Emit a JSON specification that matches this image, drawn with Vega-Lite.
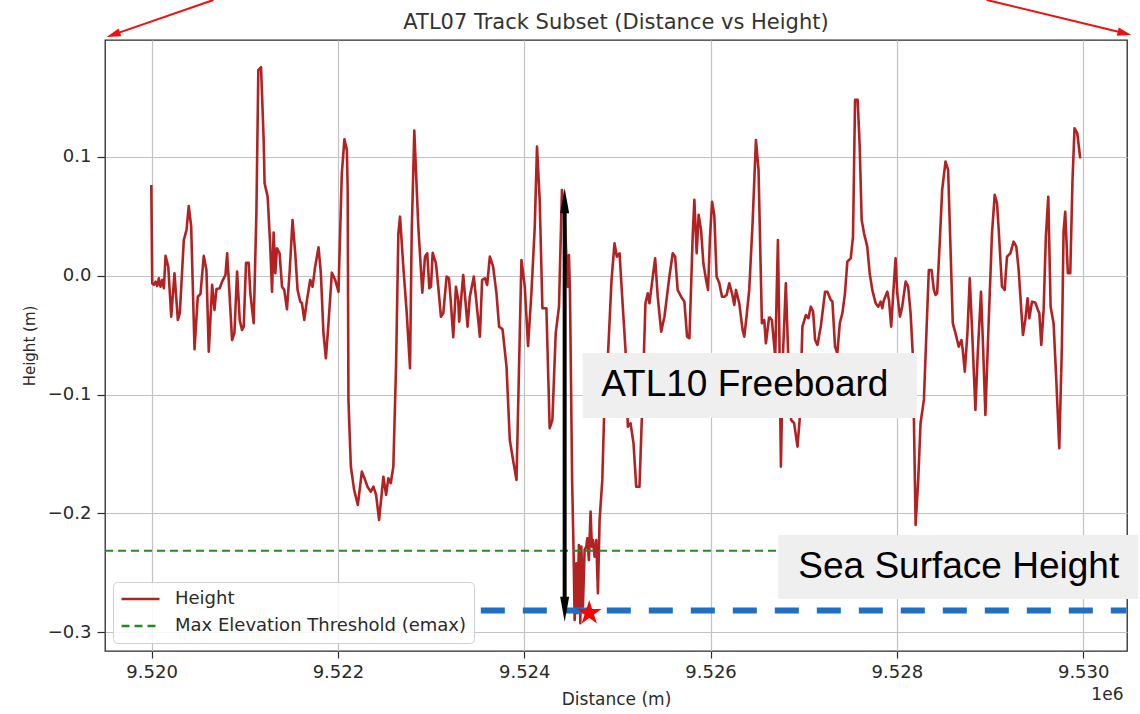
{
  "$schema": "https://vega.github.io/schema/vega-lite/v6.json",
  "width": 1022,
  "height": 611,
  "autosize": {"type": "none"},
  "padding": {"left": 105, "top": 40, "right": 13, "bottom": 63},
  "background": "white",
  "title": {
    "text": "ATL07 Track Subset (Distance vs Height)",
    "font": "DejaVu Sans",
    "fontSize": 21,
    "fontWeight": "normal",
    "color": "#333333",
    "baseline": "alphabetic",
    "offset": 12,
    "dy": 63,
    "anchor": "middle",
    "frame": "group"
  },
  "config": {
    "view": {"stroke": "#2a2a2a", "strokeWidth": 1.3},
    "axis": {
      "domain": false,
      "grid": true,
      "gridColor": "#c2c2c2",
      "gridWidth": 1.2,
      "tickColor": "#2a2a2a",
      "tickWidth": 1.2,
      "labelFont": "DejaVu Sans",
      "labelFontSize": 18,
      "labelColor": "#2a2a2a",
      "titleFont": "DejaVu Sans",
      "titleFontWeight": "normal",
      "titleColor": "#2a2a2a"
    },
    "legend": {
      "orient": "bottom-left",
      "offset": 8,
      "fillColor": "rgba(255,255,255,0.85)",
      "strokeColor": "#d0d0d0",
      "cornerRadius": 4,
      "padding": 7,
      "labelFont": "DejaVu Sans",
      "labelFontSize": 18,
      "labelColor": "#2a2a2a",
      "labelLimit": 400,
      "symbolType": "stroke",
      "symbolSize": 1444,
      "symbolStrokeWidth": 2.5,
      "labelOffset": 14,
      "clipHeight": 20,
      "rowPadding": 7
    }
  },
  "datasets": {
    "track": [
      {"d":9519997,"h":0.0763},{"d":9520007,"h":-0.0064},{"d":9520025,"h":-0.0078},{"d":9520043,"h":-0.005},{"d":9520061,"h":-0.0087},{"d":9520078,"h":-0.0022},{"d":9520096,"h":-0.0093},{"d":9520115,"h":-0.0036},{"d":9520132,"h":-0.0106},{"d":9520150,"h":0.0166},
      {"d":9520179,"h":0.0076},{"d":9520211,"h":-0.0345},{"d":9520246,"h":0.002},{"d":9520282,"h":-0.0373},{"d":9520303,"h":-0.0316},{"d":9520346,"h":0.03},{"d":9520375,"h":0.0384},{"d":9520399,"h":0.0586},{"d":9520425,"h":0.0412},{"d":9520461,"h":-0.0619},
      {"d":9520496,"h":-0.0177},{"d":9520525,"h":-0.0154},{"d":9520560,"h":0.0166},{"d":9520589,"h":0.0048},{"d":9520614,"h":-0.0639},{"d":9520650,"h":-0.0078},{"d":9520675,"h":-0.0288},{"d":9520696,"h":-0.0114},{"d":9520731,"h":-0.0106},{"d":9520757,"h":-0.005},
      {"d":9520793,"h":0.0006},{"d":9520811,"h":0.0188},{"d":9520828,"h":-0.0036},{"d":9520864,"h":-0.0541},{"d":9520889,"h":-0.0484},{"d":9520918,"h":0.0034},{"d":9520946,"h":-0.0373},{"d":9520971,"h":-0.0457},{"d":9520989,"h":-0.0429},{"d":9521014,"h":0.0109},
      {"d":9521042,"h":0.0109},{"d":9521060,"h":-0.0148},{"d":9521096,"h":-0.04},{"d":9521125,"h":0.0525},{"d":9521146,"h":0.173},{"d":9521175,"h":0.1753},{"d":9521203,"h":0.1141},{"d":9521213,"h":0.0777},{"d":9521246,"h":0.0664},{"d":9521274,"h":0.0244},
      {"d":9521293,"h":-0.0135},{"d":9521310,"h":0.0362},{"d":9521328,"h":0.002},{"d":9521346,"h":0.023},{"d":9521374,"h":0.0188},{"d":9521400,"h":-0.0093},{"d":9521424,"h":-0.012},{"d":9521453,"h":-0.0283},{"d":9521481,"h":0.002},{"d":9521513,"h":0.0468},
      {"d":9521542,"h":0.0188},{"d":9521567,"h":-0.012},{"d":9521596,"h":-0.0219},{"d":9521614,"h":-0.0232},{"d":9521639,"h":-0.0373},{"d":9521668,"h":-0.0204},{"d":9521703,"h":-0.0036},{"d":9521728,"h":-0.0093},{"d":9521756,"h":0.0076},{"d":9521792,"h":0.0239},
      {"d":9521817,"h":0.002},{"d":9521845,"h":-0.0484},{"d":9521871,"h":-0.0695},{"d":9521899,"h":-0.04},{"d":9521935,"h":0.0025},{"d":9521971,"h":-0.0036},{"d":9522006,"h":-0.0135},{"d":9522042,"h":0.0861},{"d":9522070,"h":0.1147},{"d":9522096,"h":0.1057},
      {"d":9522105,"h":0.0721},{"d":9522113,"h":-0.1045},{"d":9522139,"h":-0.1606},{"d":9522174,"h":-0.1802},{"d":9522214,"h":-0.1929},{"d":9522257,"h":-0.1648},{"d":9522292,"h":-0.1718},{"d":9522317,"h":-0.1775},{"d":9522353,"h":-0.1817},{"d":9522381,"h":-0.1775},
      {"d":9522410,"h":-0.1844},{"d":9522442,"h":-0.2055},{"d":9522488,"h":-0.1691},{"d":9522517,"h":-0.1844},{"d":9522541,"h":-0.1704},{"d":9522567,"h":-0.1746},{"d":9522595,"h":-0.1606},{"d":9522624,"h":-0.0765},{"d":9522649,"h":0.0357},{"d":9522667,"h":0.0496},
      {"d":9522702,"h":0.0076},{"d":9522739,"h":-0.0316},{"d":9522774,"h":-0.0779},{"d":9522792,"h":0.0357},{"d":9522820,"h":0.122},{"d":9522863,"h":0.0412},{"d":9522906,"h":-0.0143},{"d":9522935,"h":0.016},{"d":9522959,"h":0.0188},{"d":9522981,"h":-0.0106},
      {"d":9522999,"h":-0.0093},{"d":9523017,"h":0.0193},{"d":9523052,"h":0.0104},{"d":9523077,"h":-0.0093},{"d":9523106,"h":-0.0345},{"d":9523131,"h":-0.0316},{"d":9523167,"h":-0.0008},{"d":9523192,"h":-0.0022},{"d":9523213,"h":-0.0232},{"d":9523238,"h":-0.0518},
      {"d":9523267,"h":-0.0093},{"d":9523291,"h":-0.0204},{"d":9523302,"h":-0.0387},{"d":9523345,"h":0.0006},{"d":9523374,"h":-0.0261},{"d":9523392,"h":-0.0429},{"d":9523416,"h":-0.0177},{"d":9523459,"h":-0.0008},{"d":9523488,"h":-0.0232},{"d":9523524,"h":-0.0513},
      {"d":9523548,"h":-0.0036},{"d":9523580,"h":-0.0022},{"d":9523602,"h":-0.0078},{"d":9523631,"h":0.016},{"d":9523666,"h":0.0076},{"d":9523702,"h":-0.0148},{"d":9523730,"h":-0.0429},{"d":9523767,"h":-0.0451},{"d":9523810,"h":-0.0765},{"d":9523845,"h":-0.1382},
      {"d":9523880,"h":-0.155},{"d":9523917,"h":-0.1718},{"d":9523970,"h":0.0132},{"d":9524006,"h":-0.0093},{"d":9524041,"h":-0.0591},{"d":9524077,"h":-0.0148},{"d":9524113,"h":0.0412},{"d":9524137,"h":0.1085},{"d":9524166,"h":0.0637},{"d":9524195,"h":-0.0274},
      {"d":9524238,"h":-0.0274},{"d":9524273,"h":-0.1283},{"d":9524302,"h":-0.1214},{"d":9524338,"h":-0.0484},{"d":9524373,"h":-0.0261},{"d":9524405,"h":0.0721},{"d":9524434,"h":0.0496},{"d":9524466,"h":-0.0093},{"d":9524480,"h":0.0174},{"d":9524491,"h":-0.0135},
      {"d":9524514,"h":-0.1718},{"d":9524530,"h":-0.2335},{"d":9524541,"h":-0.2896},{"d":9524559,"h":-0.2419},{"d":9524570,"h":-0.2839},{"d":9524587,"h":-0.2265},{"d":9524602,"h":-0.2923},{"d":9524613,"h":-0.2279},{"d":9524630,"h":-0.2784},{"d":9524648,"h":-0.2307},
      {"d":9524666,"h":-0.2279},{"d":9524677,"h":-0.2209},{"d":9524694,"h":-0.2391},{"d":9524712,"h":-0.1985},{"d":9524726,"h":-0.2279},{"d":9524737,"h":-0.2223},{"d":9524755,"h":-0.2363},{"d":9524773,"h":-0.2223},{"d":9524791,"h":-0.2671},{"d":9524809,"h":-0.2055},
      {"d":9524838,"h":-0.1718},{"d":9524862,"h":-0.1045},{"d":9524898,"h":-0.0681},{"d":9524937,"h":-0.0036},{"d":9524969,"h":0.0272},{"d":9524994,"h":0.016},{"d":9525023,"h":0.0188},{"d":9525058,"h":-0.0261},{"d":9525087,"h":-0.0625},{"d":9525112,"h":-0.127},
      {"d":9525141,"h":-0.1241},{"d":9525173,"h":-0.141},{"d":9525202,"h":-0.1775},{"d":9525237,"h":-0.1775},{"d":9525273,"h":-0.0961},{"d":9525301,"h":-0.0232},{"d":9525326,"h":-0.0148},{"d":9525344,"h":-0.0232},{"d":9525380,"h":-0.0008},{"d":9525405,"h":0.0146},
      {"d":9525433,"h":-0.0177},{"d":9525470,"h":-0.0471},{"d":9525505,"h":-0.0345},{"d":9525558,"h":-0.0008},{"d":9525594,"h":0.0188},{"d":9525620,"h":0.016},{"d":9525647,"h":-0.012},{"d":9525684,"h":-0.0177},{"d":9525719,"h":-0.0219},{"d":9525748,"h":-0.0513},
      {"d":9525773,"h":-0.0526},{"d":9525791,"h":-0.0093},{"d":9525808,"h":0.0328},{"d":9525826,"h":0.0637},{"d":9525851,"h":0.0188},{"d":9525872,"h":0.0511},{"d":9525898,"h":0.0384},{"d":9525923,"h":0.0104},{"d":9525952,"h":-0.0036},{"d":9525973,"h":-0.012},
      {"d":9525994,"h":0.0328},{"d":9526016,"h":0.0622},{"d":9526040,"h":0.0511},{"d":9526065,"h":-0.0008},{"d":9526094,"h":-0.0064},{"d":9526123,"h":-0.0177},{"d":9526148,"h":-0.0177},{"d":9526172,"h":-0.0162},{"d":9526201,"h":-0.0064},{"d":9526230,"h":-0.0148},
      {"d":9526255,"h":-0.0246},{"d":9526273,"h":-0.012},{"d":9526308,"h":-0.0232},{"d":9526344,"h":-0.0457},{"d":9526362,"h":-0.0513},{"d":9526386,"h":-0.0345},{"d":9526415,"h":-0.012},{"d":9526451,"h":0.0441},{"d":9526487,"h":0.1141},{"d":9526515,"h":0.0889},
      {"d":9526551,"h":-0.04},{"d":9526576,"h":-0.0373},{"d":9526594,"h":-0.0569},{"d":9526629,"h":-0.0345},{"d":9526658,"h":-0.0373},{"d":9526694,"h":-0.0681},{"d":9526723,"h":0.03},{"d":9526737,"h":-0.04},{"d":9526755,"h":-0.1606},{"d":9526779,"h":-0.0625},
      {"d":9526808,"h":-0.0064},{"d":9526836,"h":-0.0737},{"d":9526865,"h":-0.1214},{"d":9526897,"h":-0.1241},{"d":9526933,"h":-0.1438},{"d":9526956,"h":-0.1214},{"d":9526986,"h":-0.0429},{"d":9527023,"h":-0.0331},{"d":9527050,"h":-0.0358},{"d":9527076,"h":-0.0261},
      {"d":9527101,"h":-0.0303},{"d":9527122,"h":-0.0541},{"d":9527147,"h":-0.0583},{"d":9527183,"h":-0.0429},{"d":9527229,"h":-0.0135},{"d":9527254,"h":-0.0135},{"d":9527290,"h":-0.0204},{"d":9527308,"h":-0.0219},{"d":9527336,"h":-0.0597},{"d":9527361,"h":-0.0653},
      {"d":9527387,"h":-0.04},{"d":9527415,"h":-0.0316},{"d":9527443,"h":-0.0148},{"d":9527468,"h":0.0118},{"d":9527505,"h":0.0146},{"d":9527529,"h":0.0328},{"d":9527551,"h":0.1478},{"d":9527579,"h":0.1478},{"d":9527601,"h":0.1085},{"d":9527622,"h":0.0468},
      {"d":9527647,"h":0.0357},{"d":9527682,"h":0.0244},{"d":9527708,"h":0.002},{"d":9527736,"h":-0.012},{"d":9527772,"h":-0.0232},{"d":9527800,"h":-0.0261},{"d":9527826,"h":-0.0219},{"d":9527843,"h":-0.0274},{"d":9527861,"h":-0.0204},{"d":9527897,"h":-0.0135},
      {"d":9527915,"h":-0.0204},{"d":9527939,"h":-0.0429},{"d":9527961,"h":-0.0148},{"d":9527986,"h":0.0146},{"d":9528004,"h":-0.0148},{"d":9528033,"h":-0.0345},{"d":9528057,"h":-0.0261},{"d":9528094,"h":-0.005},{"d":9528121,"h":-0.0093},{"d":9528147,"h":-0.0316},
      {"d":9528172,"h":-0.0681},{"d":9528201,"h":-0.2097},{"d":9528229,"h":-0.1718},{"d":9528254,"h":-0.1241},{"d":9528290,"h":-0.1045},{"d":9528325,"h":-0.0316},{"d":9528343,"h":0.0048},{"d":9528372,"h":0.0048},{"d":9528397,"h":-0.012},{"d":9528415,"h":-0.0162},
      {"d":9528432,"h":-0.0148},{"d":9528458,"h":0.0244},{"d":9528486,"h":0.0721},{"d":9528522,"h":0.0959},{"d":9528550,"h":0.0889},{"d":9528575,"h":0.0244},{"d":9528600,"h":-0.04},{"d":9528629,"h":-0.0484},{"d":9528664,"h":-0.0597},{"d":9528693,"h":-0.0541},
      {"d":9528707,"h":-0.0625},{"d":9528729,"h":-0.0807},{"d":9528757,"h":-0.0484},{"d":9528782,"h":-0.0022},{"d":9528807,"h":-0.0457},{"d":9528843,"h":-0.113},{"d":9528868,"h":-0.0653},{"d":9528903,"h":-0.0135},{"d":9528925,"h":-0.0597},{"d":9528950,"h":-0.1172},
      {"d":9528986,"h":-0.0373},{"d":9529021,"h":0.0357},{"d":9529050,"h":0.0679},{"d":9529075,"h":0.0609},{"d":9529093,"h":0.0384},{"d":9529128,"h":-0.0093},{"d":9529157,"h":-0.012},{"d":9529182,"h":0.016},{"d":9529218,"h":0.0188},{"d":9529253,"h":0.0286},
      {"d":9529282,"h":0.0244},{"d":9529307,"h":0.0048},{"d":9529353,"h":-0.0499},{"d":9529378,"h":-0.0373},{"d":9529403,"h":-0.019},{"d":9529422,"h":-0.0358},{"d":9529450,"h":-0.0219},{"d":9529486,"h":-0.0227},{"d":9529514,"h":-0.0288},{"d":9529529,"h":-0.0316},
      {"d":9529550,"h":-0.0583},{"d":9529575,"h":-0.0288},{"d":9529599,"h":0.0328},{"d":9529625,"h":0.0664},{"d":9529650,"h":-0.0261},{"d":9529682,"h":-0.04},{"d":9529711,"h":-0.0877},{"d":9529743,"h":-0.1452},{"d":9529771,"h":-0.0597},{"d":9529789,"h":0.037},
      {"d":9529807,"h":0.0538},{"d":9529835,"h":0.002},{"d":9529861,"h":0.002},{"d":9529885,"h":0.0805},{"d":9529907,"h":0.124},{"d":9529936,"h":0.1198},{"d":9529968,"h":0.0987}
    ],
    "threshold": [{"h": -0.2313}],
    "seaSurface": [{"d1": 9523534, "d2": 9530464, "h": -0.2817}],
    "lowest": [{"d": 9524698, "h": -0.2837}]
  },
  "layer": [
    {
      "data": {"name": "track"},
      "mark": {"type": "line", "strokeWidth": 2.6, "clip": true, "strokeJoin": "round"},
      "encoding": {
        "x": {
          "field": "d", "type": "quantitative",
          "scale": {"domain": [9519500, 9530470], "nice": false, "zero": false},
          "axis": {
            "values": [9520000, 9522000, 9524000, 9526000, 9528000, 9530000],
            "labelExpr": "format(datum.value / 1000000, '.3f')",
            "tickSize": 7,
            "labelPadding": 5,
            "title": "Distance (m)",
            "titleFontSize": 17,
            "titlePadding": 10
          }
        },
        "y": {
          "field": "h", "type": "quantitative",
          "scale": {"domain": [-0.3157, 0.1982], "nice": false, "zero": false},
          "axis": {
            "values": [-0.3, -0.2, -0.1, 0, 0.1],
            "format": ".1f",
            "tickSize": 8,
            "labelPadding": 6,
            "title": "Height (m)",
            "titleFontSize": 15,
            "titlePadding": 10
          }
        },
        "color": {
          "datum": "Height",
          "scale": {"domain": ["Height", "Max Elevation Threshold (emax)"], "range": ["#b22222", "#228b22"]},
          "legend": {"title": null}
        },
        "strokeDash": {
          "datum": "Height",
          "scale": {"domain": ["Height", "Max Elevation Threshold (emax)"], "range": [[1, 0], [8, 5]]},
          "legend": {"title": null}
        }
      }
    },
    {
      "data": {"name": "threshold"},
      "mark": {"type": "rule", "strokeWidth": 2},
      "encoding": {
        "y": {"field": "h", "type": "quantitative"},
        "color": {"datum": "Max Elevation Threshold (emax)"},
        "strokeDash": {"datum": "Max Elevation Threshold (emax)"}
      }
    },
    {
      "data": {"name": "seaSurface"},
      "mark": {"type": "rule", "strokeWidth": 6, "color": "#1f6fc5", "strokeDash": [24, 18]},
      "encoding": {
        "x": {"field": "d1", "type": "quantitative"},
        "x2": {"field": "d2"},
        "y": {"field": "h", "type": "quantitative"}
      }
    },
    {
      "data": {"name": "lowest"},
      "mark": {"type": "point", "filled": true, "color": "#ff0000", "opacity": 1, "size": 676,
        "shape": "M0,-1L0.2245,-0.309L0.951,-0.309L0.363,0.118L0.588,0.809L0,0.382L-0.588,0.809L-0.363,0.118L-0.951,-0.309L-0.2245,-0.309Z"},
      "encoding": {
        "x": {"field": "d", "type": "quantitative"},
        "y": {"field": "h", "type": "quantitative"}
      }
    },
    {
      "data": {"values": [{}]},
      "mark": {"type": "rule", "strokeWidth": 4, "color": "#000000"},
      "encoding": {
        "x": {"datum": 9524434, "type": "quantitative"},
        "y": {"datum": 0.0527, "type": "quantitative"},
        "y2": {"datum": -0.2702}
      }
    },
    {
      "data": {"values": [{}]},
      "mark": {"type": "point", "filled": true, "color": "#000000", "opacity": 1, "size": 625, "shape": "M0,-1L0.36,1L-0.36,1Z"},
      "encoding": {
        "x": {"datum": 9524434, "type": "quantitative"},
        "y": {"datum": 0.063, "type": "quantitative"}
      }
    },
    {
      "data": {"values": [{}]},
      "mark": {"type": "point", "filled": true, "color": "#000000", "opacity": 1, "size": 625, "shape": "M0,1L0.36,-1L-0.36,-1Z"},
      "encoding": {
        "x": {"datum": 9524434, "type": "quantitative"},
        "y": {"datum": -0.2805, "type": "quantitative"}
      }
    },
    {
      "data": {"values": [{}]},
      "mark": {"type": "rect", "color": "#efefef", "opacity": 1, "clip": false},
      "encoding": {
        "x": {"datum": 9524627, "type": "quantitative"},
        "x2": {"datum": 9528215},
        "y": {"datum": -0.065, "type": "quantitative"},
        "y2": {"datum": -0.1197}
      }
    },
    {
      "data": {"values": [{}]},
      "mark": {"type": "text", "text": "ATL10 Freeboard", "font": "Liberation Sans", "fontSize": 37, "color": "#000000", "align": "center", "baseline": "middle"},
      "encoding": {
        "x": {"datum": 9526367, "type": "quantitative"},
        "y": {"datum": -0.0919, "type": "quantitative"}
      }
    },
    {
      "data": {"values": [{}]},
      "mark": {"type": "rect", "color": "#efefef", "opacity": 1, "clip": false},
      "encoding": {
        "x": {"datum": 9526726, "type": "quantitative"},
        "x2": {"datum": 9530592},
        "y": {"datum": -0.2181, "type": "quantitative"},
        "y2": {"datum": -0.2719}
      }
    },
    {
      "data": {"values": [{}]},
      "mark": {"type": "text", "text": "Sea Surface Height", "font": "Liberation Sans", "fontSize": 37, "color": "#000000", "align": "center", "baseline": "middle"},
      "encoding": {
        "x": {"datum": 9528664, "type": "quantitative"},
        "y": {"datum": -0.245, "type": "quantitative"}
      }
    },
    {
      "data": {"values": [{}]},
      "mark": {"type": "rule", "strokeWidth": 2, "color": "#ee1111", "clip": false},
      "encoding": {
        "x": {"datum": 9520664, "type": "quantitative"},
        "x2": {"datum": 9519589},
        "y": {"datum": 0.2319, "type": "quantitative"},
        "y2": {"datum": 0.2027}
      }
    },
    {
      "data": {"values": [{}]},
      "mark": {"type": "point", "filled": true, "color": "#ee1111", "opacity": 1, "size": 196, "angle": 250.9, "clip": false, "shape": "M0,-1L0.6,1L-0.6,1Z"},
      "encoding": {
        "x": {"datum": 9519589, "type": "quantitative"},
        "y": {"datum": 0.2027, "type": "quantitative"}
      }
    },
    {
      "data": {"values": [{}]},
      "mark": {"type": "rule", "strokeWidth": 2, "color": "#ee1111", "clip": false},
      "encoding": {
        "x": {"datum": 9528964, "type": "quantitative"},
        "x2": {"datum": 9530444},
        "y": {"datum": 0.2319, "type": "quantitative"},
        "y2": {"datum": 0.2038}
      }
    },
    {
      "data": {"values": [{}]},
      "mark": {"type": "point", "filled": true, "color": "#ee1111", "opacity": 1, "size": 196, "angle": 103.6, "clip": false, "shape": "M0,-1L0.6,1L-0.6,1Z"},
      "encoding": {
        "x": {"datum": 9530444, "type": "quantitative"},
        "y": {"datum": 0.2038, "type": "quantitative"}
      }
    },
    {
      "data": {"values": [{}]},
      "mark": {"type": "text", "text": "1e6", "font": "DejaVu Sans", "fontSize": 17, "color": "#2a2a2a", "align": "right", "baseline": "middle", "clip": false},
      "encoding": {
        "x": {"datum": 9530432, "type": "quantitative"},
        "y": {"datum": -0.3528, "type": "quantitative"}
      }
    }
  ]
}
